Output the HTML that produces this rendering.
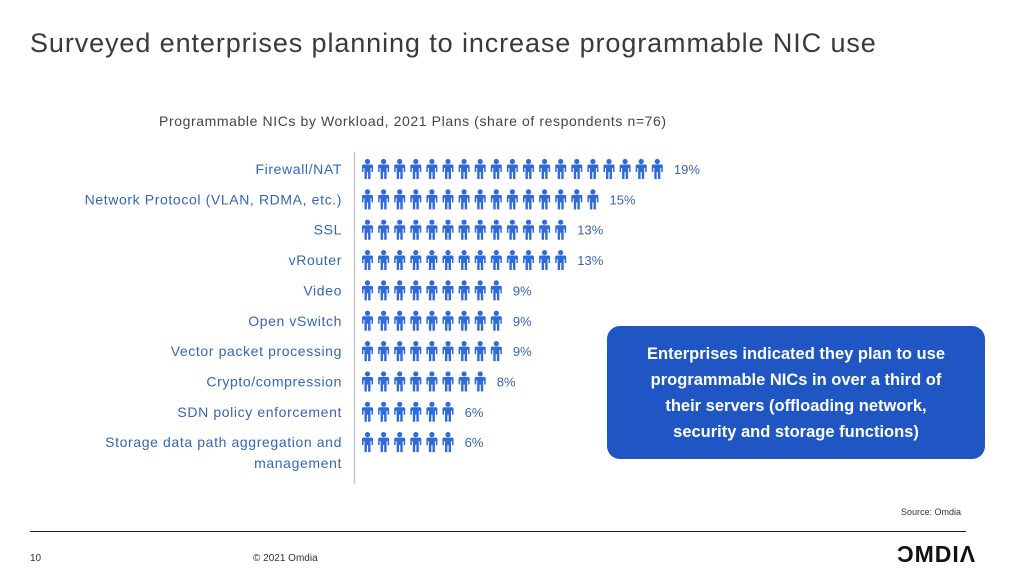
<!DOCTYPE html>
<html><head><meta charset="utf-8"><style>
body{margin:0;width:1024px;height:576px;background:#fff;font-family:"Liberation Sans",sans-serif;position:relative;overflow:hidden}
.abs{position:absolute}
</style></head><body>
<div class="abs" style="left:30px;top:28px;font-size:27px;letter-spacing:0.9px;color:#3a3a3a;white-space:nowrap">Surveyed enterprises planning to increase programmable NIC use</div>
<div class="abs" style="left:159px;top:113px;font-size:14px;letter-spacing:0.6px;color:#444;white-space:nowrap">Programmable NICs by Workload, 2021 Plans (share of respondents n=76)</div>
<svg class="abs" style="left:0;top:0" width="1024" height="576" id="chart">
<line x1="354.5" y1="152" x2="354.5" y2="484" stroke="#c8c8c8" stroke-width="1.5"/>
</svg>
<div class="abs" style="left:607px;top:326px;width:378px;height:133px;background:#1f56c3;border-radius:13px;color:#fff;font-weight:bold;font-size:16.5px;line-height:26px;text-align:center;display:flex;align-items:center;justify-content:center">Enterprises indicated they plan to use<br>programmable NICs in over a third of<br>their servers (offloading network,<br>security and storage functions)</div>
<div class="abs" style="left:901px;top:507px;font-size:9px;color:#333">Source: Omdia</div>
<div class="abs" style="left:30px;top:531px;width:936px;height:1px;background:#222"></div>
<div class="abs" style="left:30px;top:553px;font-size:10px;color:#333">10</div>
<div class="abs" style="left:253px;top:553px;font-size:10px;color:#333">© 2021 Omdia</div>
<div class="abs" style="left:897px;top:541px;font-size:23px;font-weight:bold;color:#111;letter-spacing:1px">ƆMDIΛ</div>
<script>
const categories=["Firewall/NAT","Network Protocol (VLAN, RDMA, etc.)","SSL","vRouter","Video","Open vSwitch","Vector packet processing","Crypto/compression","SDN policy enforcement","Storage data path aggregation and management"];
const values=[19,15,13,13,9,9,9,8,6,6];
const labels=["19%","15%","13%","13%","9%","9%","9%","8%","6%","6%"];
const svg=document.getElementById('chart');
const NS='http://www.w3.org/2000/svg';
const x0=362,pitch=16.1,rowY0=169,rowPitch=30.35;
function xPos(i){return x0+i*pitch;}
function yPos(r){return rowY0+r*rowPitch;}
categories.forEach((c,r)=>{
  const y=yPos(r);
  const lab=document.createElementNS(NS,'text');
  
  
  lab.setAttribute('x',342);lab.setAttribute('text-anchor','end');
  lab.setAttribute('font-size','14');lab.setAttribute('fill','#3465b8');
  lab.setAttribute('letter-spacing','0.62');
  lab.setAttribute('font-family','Liberation Sans, sans-serif');
  if(c.startsWith('Storage')){
    lab.innerHTML='<tspan x="342" y="'+(y+5)+'">Storage data path aggregation and</tspan><tspan x="342" y="'+(y+26)+'">management</tspan>';
  } else {lab.setAttribute('y',y+5);lab.textContent=c;}
  svg.appendChild(lab);
  for(let i=0;i<values[r];i++){
    const cx=xPos(i)+5.5;
    const g=document.createElementNS(NS,'g');
    
    
    g.setAttribute('fill','#2e6bd8');
    g.innerHTML='<circle cx="'+cx+'" cy="'+(y-7.5)+'" r="2.6"/>'+
      '<path d="M'+(cx-5.5)+' '+(y+3)+' V'+(y-3)+' Q'+(cx-5.5)+' '+(y-4.5)+' '+(cx-4)+' '+(y-4.5)+' H'+(cx+4)+' Q'+(cx+5.5)+' '+(y-4.5)+' '+(cx+5.5)+' '+(y-3)+' V'+(y+3)+' H'+(cx+4)+' V'+(y-1)+' H'+(cx+3)+' V'+(y+10)+' H'+(cx+0.6)+' V'+(y+3)+' H'+(cx-0.6)+' V'+(y+10)+' H'+(cx-3)+' V'+(y-1)+' H'+(cx-4)+' V'+(y+3)+' Z"/>';
    svg.appendChild(g);
  }
  const v=document.createElementNS(NS,'text');
  
  
  v.setAttribute('x',xPos(values[r])+6);v.setAttribute('y',y+5);
  v.setAttribute('font-size','13');v.setAttribute('fill','#3465b8');
  v.setAttribute('font-family','Liberation Sans, sans-serif');
  v.textContent=labels[r];
  svg.appendChild(v);
});
</script>
</body></html>
